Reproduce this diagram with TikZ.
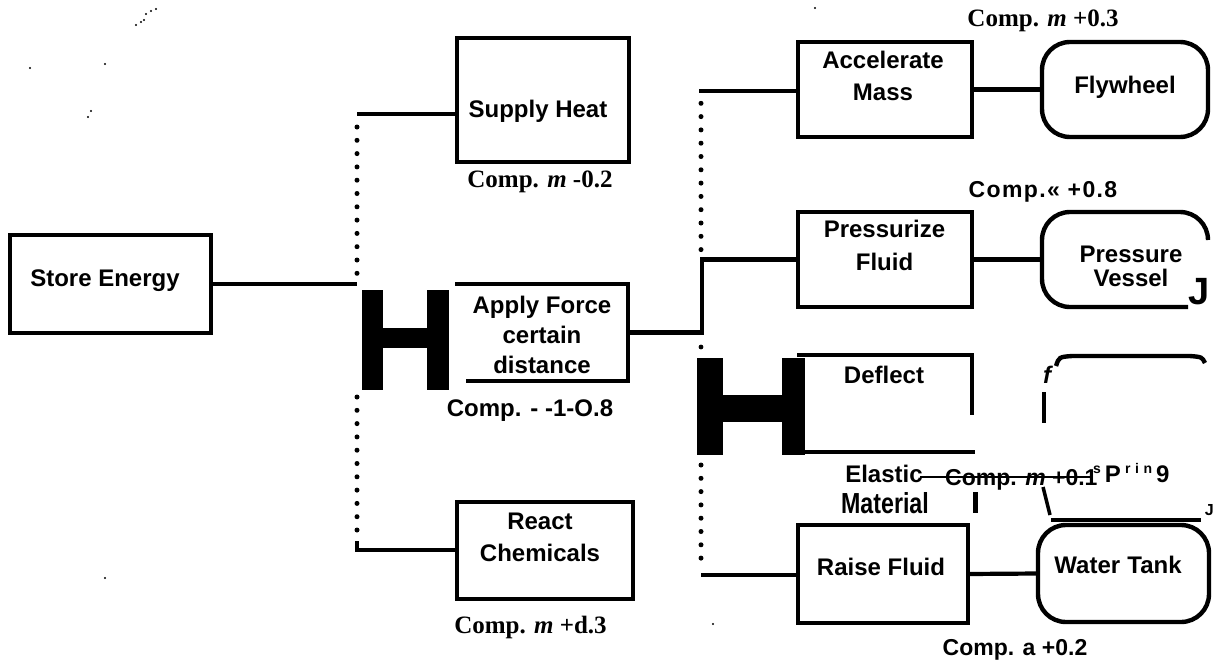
\documentclass[tikz,border=0pt]{standalone}
\usepackage{fontspec}
\usepackage{graphicx}
\newfontfamily\sfb{Liberation Sans}
\newfontfamily\tmb{Liberation Serif}
\newcommand{\mlines}[1]{\begin{tabular}[t]{@{}c@{}}#1\end{tabular}}
\begin{document}
\begin{tikzpicture}[x=1pt,y=-1pt,
  box/.style={draw, line width=4.4pt, inner sep=0pt, outer sep=0pt},
  rbox/.style={box, rounded corners=28pt},
  ghost/.style={inner sep=0pt, outer sep=0pt},
  conn/.style={line width=4.2pt},
  edge/.style={line width=4.4pt},
  dotl/.style={line width=5pt, line cap=round, dash pattern=on 0pt off 13.3pt},
  txt/.style={font=\sfb\bfseries\fontsize{24}{32}\selectfont, inner sep=0pt, anchor=base},
  ser/.style={font=\tmb\bfseries\fontsize{25}{28}\selectfont, inner sep=0pt, anchor=base},
  speck/.style={fill=black}
]
\useasboundingbox (0,0) rectangle (1213,664);

% ---------- boxes ----------
\node[box, minimum width=201pt, minimum height=98pt] (se) at (110.5,284) {};
\node[box, minimum width=172pt, minimum height=124pt] (sh) at (543,100) {};
\node[box, minimum width=176pt, minimum height=97pt] (rc) at (545,550.5) {};
\node[box, minimum width=174pt, minimum height=95pt] (am) at (885,89.5) {};
\node[box, minimum width=174pt, minimum height=95pt] (pf) at (885,259.5) {};
\node[box, minimum width=170pt, minimum height=98pt] (rf) at (883,574) {};
\node[rbox, minimum width=166pt, minimum height=95pt] (fw) at (1125,89.5) {};
\node[rbox, minimum width=171pt, minimum height=97pt] (wt) at (1123.5,573.5) {};
\node[ghost, minimum width=173pt, minimum height=97pt] (af) at (541.5,332.5) {};
\node[ghost, minimum width=175pt, minimum height=97pt] (df) at (884.5,403.5) {};
\node[ghost, minimum width=166pt, minimum height=95pt] (pv) at (1125,259.5) {};

% partial outlines
\draw[edge] (af.north west) -- (af.north east) -- (af.south east) -- ([xshift=11pt]af.south west);
\draw[edge] (df.north west) -- (df.north east) -- ++(0,60);
\draw[edge] ([xshift=8pt]df.south west) -- ([xshift=3pt]df.south east);
\draw[edge] (1208,240) arc (0:-90:28) -- (1070,212) arc (-90:-180:28) -- (1042,279) arc (180:90:28) -- (1188,307);
% spring fragments
\draw[edge] (1056,366) .. controls (1059,357) .. (1072,356) -- (1190,356) .. controls (1202,357) .. (1205,363);
\draw[edge] (1051,520) -- (1201,520);
\draw[line width=4pt] (1044,392) -- (1044,423);
\draw[line width=3.5pt] (1043,487) -- (1050,515);
\draw[line width=5pt] (975,492) -- (975,513);
\draw[line width=2.5pt] (920,477) -- (1092,477);

% ---------- H blocks ----------
\fill (362,290) rectangle (383,390);
\fill (383,328) rectangle (427,348);
\fill (427,290) rectangle (449,390);
\fill (697,358) rectangle (723,455);
\fill (723,395) rectangle (782,422);
\fill (782,358) rectangle (805,455);

% ---------- connectors ----------
\coordinate (j1) at (357,284);
\coordinate (j2) at (357,114);
\coordinate (j3) at (357,550);
\draw[conn] (se.east) -- (j1);
\draw[conn] (j2) -- (j2 -| sh.west);
\draw[dotl] (357,127) -- (357,277);
\draw[dotl] (357,397) -- (357,537);
\draw[conn] (357,541) -- (j3) -- (j3 -| rc.west);

\coordinate (k1) at (702,332.5);
\coordinate (k2) at (699,91);
\coordinate (k3) at (701,575);
\draw[conn] (af.east) -- (k1) |- (pf.west);
\draw[conn] (k2) -- (k2 -| am.west);
\draw[dotl] (701,103.3) -- (701,253);
\fill (701,347) circle (2.4);
\draw[dotl] (701,465) -- (701,562);
\draw[conn] (k3) -- (k3 -| rf.west);
\draw[conn] (am.east) -- (fw.west);
\draw[conn] (pf.east) -- (pv.west);
\draw[conn] (rf.east) -- (wt.west);

% ---------- texts ----------
\node[txt] (seT) at (105,286) {Store Energy};
\node[txt] (shT) at (538,117) {Supply Heat};
\node[ser] (shC) at (540,187) {Comp. \textit{m} -0.2};
\node[txt, font=\sfb\bfseries\fontsize{24}{30}\selectfont] (afT) at (542,313) {\mlines{Apply Force\\certain\\distance}};
\node[txt] (afC) at (530,416) {Comp. - -1-O.8};
\node[txt] (rcT) at (540,529) {\mlines{React\\Chemicals}};
\node[ser] (rcC) at (530.5,633) {Comp. \textit{m} +d.3};
\node[txt] (amT) at (883,68) {\mlines{Accelerate\\Mass}};
\node[ser] (amC) at (1043,26.7) {Comp. \textit{m} +0.3};
\node[txt] (fwT) at (1125,93) {Flywheel};
\node[txt, font=\sfb\bfseries\fontsize{24}{33}\selectfont] (pfT) at (884.5,237) {\mlines{Pressurize\\Fluid}};
\node[txt, font=\sfb\bfseries\fontsize{23}{30}\selectfont\addfontfeature{LetterSpace=6}] (pvC) at (1043,197) {Comp.« +0.8};
\node[txt, font=\sfb\bfseries\fontsize{24}{23}\selectfont] (pvT) at (1131,262) {\mlines{Pressure\\Vessel}};
\node[txt, anchor=base east, font=\sfb\bfseries\fontsize{38}{40}\selectfont] (pvJ) at (1210,304) {J};
\node[txt] (dfT) at (884,383) {Deflect};
\node[txt] (elT) at (884,482) {Elastic};
\node[txt, font=\sfb\bfseries\fontsize{29}{30}\selectfont] (maT) at (885,513) {\scalebox{0.8}[1]{Material}};
\node[txt, font=\sfb\bfseries\fontsize{23}{30}\selectfont, anchor=base west] (spC) at (945,485) {Comp. \textit{m} +0.1};
\node[txt, anchor=base west] (spT) at (1093,482) {\raisebox{9pt}{\fontsize{14}{14}\selectfont s}\,P\,\raisebox{9pt}{\fontsize{14}{14}\selectfont r\,\,i\,\,n}\,9};
\node[txt, font=\sfb\bfseries\itshape\fontsize{24}{24}\selectfont] (spF) at (1047,383) {f};
\node[txt, anchor=base east, font=\sfb\bfseries\fontsize{16}{16}\selectfont] (spJ) at (1214,515) {J};
\node[txt] (rfT) at (881,575) {Raise Fluid};
\node[txt] (wtT) at (1118,573) {Water\hspace{0.3em}Tank};
\node[txt, font=\sfb\bfseries\fontsize{23}{30}\selectfont] (wtC) at (1015,655) {Comp. a +0.2};

% ---------- specks ----------
\foreach \p in {(136,25),(141,22),(146,14),(151,11),(156,9),(144,20),(30,68),(105,64),(88,117),(91,111),(815,8),(105,578),(713,624)}
  \fill[speck] \p circle (1.2);
\end{tikzpicture}
\end{document}
